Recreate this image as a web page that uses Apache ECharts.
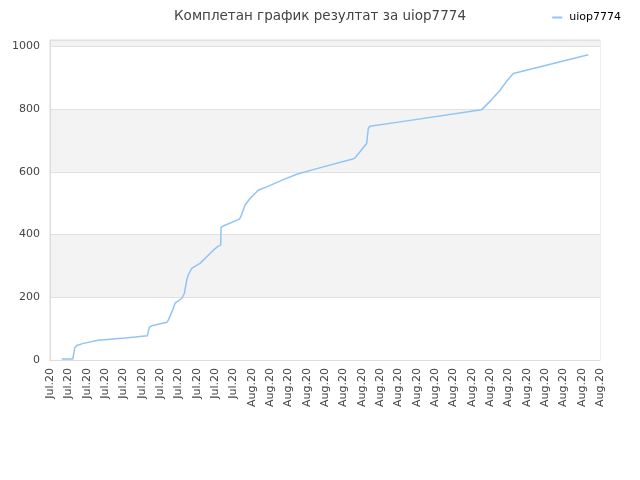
<!DOCTYPE html>
<html>
<head>
<meta charset="utf-8">
<script src="https://cdn.jsdelivr.net/npm/echarts@6/dist/echarts.min.js"></script>
<style>
  html, body { margin: 0; padding: 0; background: #fff; }
  #chart { width: 640px; height: 480px; }
</style>
</head>
<body>
<div id="chart"></div>
<script>
// tick labels along the x axis (31 ticks)
var tickLabels = [
  "Jul.20", "Jul.20", "Jul.20", "Jul.20", "Jul.20", "Jul.20", "Jul.20", "Jul.20",
  "Jul.20", "Jul.20", "Jul.20",
  "Aug.20", "Aug.20", "Aug.20", "Aug.20", "Aug.20", "Aug.20", "Aug.20", "Aug.20",
  "Aug.20", "Aug.20", "Aug.20", "Aug.20", "Aug.20", "Aug.20", "Aug.20", "Aug.20",
  "Aug.20", "Aug.20", "Aug.20", "Aug.20"
];

// position of each point, in tick units
var xPos = [
  0.64, 1.24, 1.35, 1.46, 1.82, 2.63, 3.45, 4.09, 4.64, 5.31,
  5.42, 5.55, 6.37, 6.45, 6.69, 6.82, 7.18, 7.33, 7.46, 7.54,
  7.73, 8.18, 8.91, 9.18, 9.31, 9.33, 9.45, 10.33, 10.40, 10.64,
  10.91, 11.36, 11.82, 12.73, 13.46, 14.55, 16.46, 16.62, 17.27, 17.36,
  17.45, 19.09, 23.55, 24.09, 24.55, 24.91, 25.27, 29.36
];

// cumulative result
var results = [
  3, 3, 39, 46, 53, 63, 67, 70, 73, 77,
  105, 109, 120, 127, 159, 181, 196, 212, 255, 271,
  292, 308, 350, 363, 366, 423, 427, 449, 456, 494,
  515, 541, 552, 575, 592, 610, 640, 643, 690, 738,
  745, 759, 798, 830, 860, 889, 913, 973
];

var seriesName = "uiop7774";

var points = [];
for (var i = 0; i < xPos.length; i++) {
  points.push([xPos[i], results[i]]);
}

var myChart = echarts.init(document.getElementById("chart"));

var option = {
  animation: false,
  textStyle: { fontFamily: "DejaVu Sans" },
  title: {
    text: "Комплетан график резултат за " + seriesName,
    left: "center",
    top: 4,
    textStyle: { fontSize: 13.5, fontWeight: "normal", color: "#444" }
  },
  legend: {
    data: [seriesName],
    right: 14,
    top: 7,
    itemWidth: 10,
    itemHeight: 2,
    itemGap: 6,
    icon: "rect",
    textStyle: { fontSize: 11, color: "#000", padding: [0, 0, 0, 2] }
  },
  grid: {
    left: 50,
    right: 40,
    top: 40,
    bottom: 120,
    show: true,
    borderColor: "#ddd",
    borderWidth: 1
  },
  xAxis: {
    type: "value",
    min: 0,
    max: 30,
    interval: 1,
    axisLine: { lineStyle: { color: "#ddd" } },
    axisTick: { show: false },
    splitLine: { show: false },
    axisLabel: {
      rotate: 90,
      fontSize: 11,
      color: "#444",
      margin: 8,
      formatter: function (v) {
        return tickLabels[Math.round(v)] || "";
      }
    }
  },
  yAxis: {
    type: "value",
    min: 0,
    max: 1020,
    interval: 200,
    axisLine: { show: true, lineStyle: { color: "#ddd" } },
    axisTick: { show: false },
    splitLine: { lineStyle: { color: "#e0e0e0" } },
    splitArea: { show: true, areaStyle: { color: ["#fff", "#f3f3f3"] } },
    axisLabel: {
      fontSize: 11,
      color: "#444",
      margin: 10,
      formatter: function (v) {
        return v % 200 === 0 ? String(v) : "";
      }
    }
  },
  series: [
    {
      name: seriesName,
      type: "line",
      data: points,
      showSymbol: false,
      symbol: "none",
      itemStyle: { color: "#90c4f5" },
      lineStyle: { color: "#90c4f5", width: 1.5 }
    }
  ]
};
myChart.setOption(option);
</script>
</body>
</html>
